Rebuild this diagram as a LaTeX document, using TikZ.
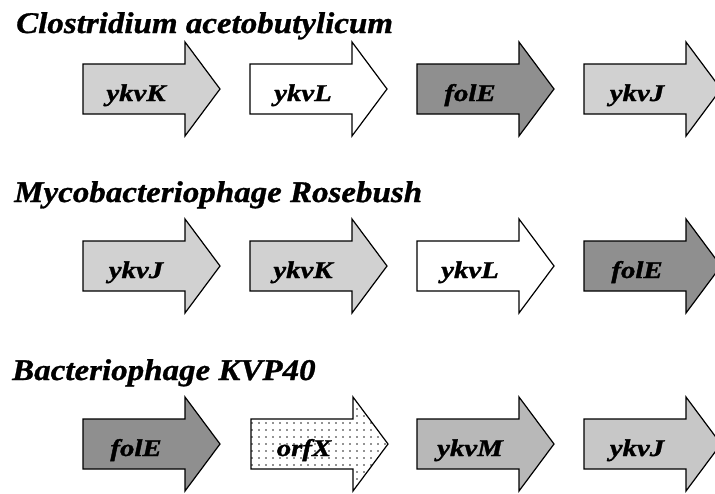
\documentclass[tikz,border=0pt]{standalone}
\usepackage{fontspec}
\setmainfont{Liberation Serif}
\newfontfamily\titlefont[FakeStretch=1.1,FakeBold=1]{Liberation Serif}
\newfontfamily\genefont[FakeStretch=1.2,FakeBold=1.5]{Liberation Serif}
\usetikzlibrary{patterns.meta}
\definecolor{lightg}{gray}{0.82}
\definecolor{midg}{gray}{0.72}
\definecolor{darkg}{gray}{0.56}
\definecolor{rowthreeg}{gray}{0.78}
\tikzset{
  genebody/.style={draw=black, line width=1.2pt, line join=miter},
  genetitle/.style={anchor=base west, inner sep=0pt, font=\titlefont\fontsize{30}{32}\selectfont\bfseries\itshape},
  genelabel/.style={anchor=base, inner sep=0pt, font=\genefont\fontsize{24}{26}\selectfont\bfseries\itshape},
  stipple/.style={pattern={Dots[distance=7pt, radius=0.9pt]}, pattern color=black!85}
}
% #1 left x, #2 centre y, #3 fill options, #4 label, #5 name
\newcommand{\genearrow}[5]{%
  \path[genebody,#3] (#1,#2-25) -- (#1+102,#2-25) -- (#1+102,#2-47) -- (#1+137,#2)
     -- (#1+102,#2+47) -- (#1+102,#2+25) -- (#1,#2+25) -- cycle;
  \node[genelabel] (#5) at (#1+53,#2+12) {#4};
}
\begin{document}
\begin{tikzpicture}[x=1pt,y=-1pt]
\useasboundingbox (0,0) rectangle (715,493);
\clip (0,0) rectangle (715,493);
\fill[white] (0,0) rectangle (715,493);
% Row 1
\node[genetitle] (t1) at (16,33) {Clostridium acetobutylicum};
\genearrow{83}{89}{fill=lightg}{ykvK}{a11}
\genearrow{250}{89}{fill=white}{ykvL}{a12}
\genearrow{417}{89}{fill=darkg}{folE}{a13}
\genearrow{584}{89}{fill=lightg}{ykvJ}{a14}
% Row 2
\node[genetitle] (t2) at (14,202) {Mycobacteriophage Rosebush};
\genearrow{83}{266}{fill=lightg}{ykvJ}{a21}
\genearrow{250}{266}{fill=lightg}{ykvK}{a22}
\genearrow{417}{266}{fill=white}{ykvL}{a23}
\genearrow{584}{266}{fill=darkg}{folE}{a24}
% Row 3
\node[genetitle] (t3) at (12,380) {Bacteriophage KVP40};
\genearrow{83}{444}{fill=darkg}{folE}{a31}
\path[stipple] (251,419) -- (353,419) -- (353,397) -- (388,444) -- (353,491) -- (353,469) -- (251,469) -- cycle;
\genearrow{251}{444}{fill=none}{orfX}{a32}
\genearrow{417}{444}{fill=midg}{ykvM}{a33}
\genearrow{584}{444}{fill=rowthreeg}{ykvJ}{a34}
\end{tikzpicture}
\end{document}
